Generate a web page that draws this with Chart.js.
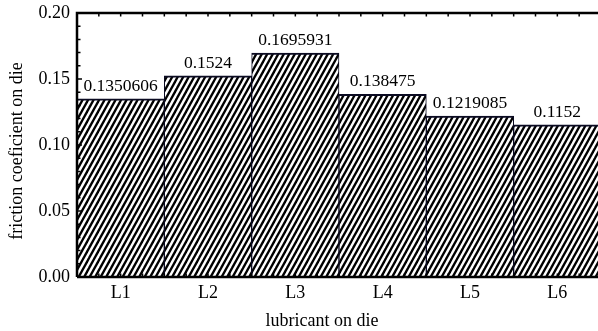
<!DOCTYPE html>
<html>
<head>
<meta charset="utf-8">
<script src="https://cdn.jsdelivr.net/npm/chart.js@4.4.0/dist/chart.umd.min.js"></script>
<style>
  html, body { margin: 0; padding: 0; background: #fff; overflow: hidden; }
  canvas { display: block; }
</style>
</head>
<body>
<canvas id="canvas" width="604" height="331"></canvas>
<script>
const lubricants = ['L1', 'L2', 'L3', 'L4', 'L5', 'L6'];
const friction = [0.1350606, 0.1524, 0.1695931, 0.138475, 0.1219085, 0.1152];
const yTicks = [0, 0.05, 0.10, 0.15, 0.20];
const xTitle = 'lubricant on die';
const yTitle = 'friction coeficient on die';

const serif = 'Liberation Serif';

// diagonal hatch "///"
function makeHatch() {
    const tile = document.createElement('canvas');
    tile.width = 11;
    tile.height = 20;
    const t = tile.getContext('2d');
    t.fillStyle = '#fff';
    t.fillRect(0, 0, 11, 20);
    t.strokeStyle = '#000';
    t.lineWidth = 2.3;
    for (let k = -3; k <= 3; k++) {
        t.beginPath();
        t.moveTo(11 + k * 5.5 + 11, -20);
        t.lineTo(k * 5.5 - 11, 40);
        t.stroke();
    }
    return t.createPattern(tile, 'repeat');
}

const valueLabels = {
    id: 'valueLabels',
    afterDatasetsDraw(chart) {
        const ctx = chart.ctx;
        const meta = chart.getDatasetMeta(0);
        ctx.save();
        ctx.font = '17.5px "' + serif + '"';
        ctx.fillStyle = '#000';
        ctx.textAlign = 'center';
        ctx.textBaseline = 'bottom';
        meta.data.forEach(function(bar, i) {
            ctx.fillText(String(friction[i]), bar.x, bar.y - 4);
        });
        ctx.restore();
    }
};

const frame = {
    id: 'frame',
    afterDraw(chart) {
        const ctx = chart.ctx;
        const a = chart.chartArea;
        const xs = chart.scales.x;
        const ys = chart.scales.y;
        ctx.save();
        ctx.strokeStyle = '#000';
        ctx.lineWidth = 2.5;
        ctx.beginPath();
        ctx.moveTo(a.left, a.bottom);
        ctx.lineTo(a.left, a.top);
        ctx.lineTo(a.right + 5, a.top);
        ctx.moveTo(a.left, a.bottom);
        ctx.lineTo(a.right + 5, a.bottom);
        ctx.stroke();

        ctx.lineWidth = 1.5;
        ctx.beginPath();
        // x ticks every quarter category, top and bottom, pointing inwards
        for (let v = -0.5; v <= lubricants.length - 0.5 + 1e-9; v += 0.25) {
            const px = xs.getPixelForValue(v);
            ctx.moveTo(px, a.top);
            ctx.lineTo(px, a.top + 3.5);
            ctx.moveTo(px, a.bottom);
            ctx.lineTo(px, a.bottom - 3.5);
        }
        // y ticks every 0.01, pointing right
        for (let j = 0; j <= 20; j++) {
            const py = ys.getPixelForValue(j * 0.01);
            const len = (j % 5 === 0) ? 5 : 3.5;
            ctx.moveTo(a.left, py);
            ctx.lineTo(a.left + len, py);
        }
        ctx.stroke();

        // axis titles
        ctx.font = '18px "' + serif + '"';
        ctx.fillStyle = '#000';
        ctx.textAlign = 'center';
        ctx.textBaseline = 'middle';
        ctx.fillText(xTitle, (a.left + a.right) / 2 - 17, xs.bottom - 10);
        ctx.translate(ys.left + 17, (a.top + a.bottom) / 2 + 6);
        ctx.rotate(-Math.PI / 2);
        ctx.fillText(yTitle, 0, 0);
        ctx.restore();
    }
};

const ctx = document.getElementById('canvas').getContext('2d');
const myChart = new Chart(ctx, {
    type: 'bar',
    data: {
        labels: lubricants,
        datasets: [{
            data: friction,
            backgroundColor: makeHatch(),
            borderColor: '#0b0b22',
            borderWidth: { top: 2, left: 1, right: 1, bottom: 0 },
            borderSkipped: false,
            categoryPercentage: 1.0,
            barPercentage: 1.0
        }]
    },
    options: {
        responsive: false,
        animation: false,
        devicePixelRatio: 1,
        layout: {
            padding: { left: 0, top: 13, right: 3, bottom: 0 }
        },
        scales: {
            x: {
                grid: { display: false, drawTicks: false },
                border: { display: false },
                ticks: {
                    color: '#000',
                    font: { family: serif, size: 18 },
                    padding: 5,
                    maxRotation: 0
                },
                afterFit: function(scale) { scale.height = 54; }
            },
            y: {
                min: 0,
                max: 0.2,
                afterBuildTicks: function(scale) {
                    scale.ticks = yTicks.map(function(v) { return { value: v }; });
                },
                grid: { display: false, drawTicks: false },
                border: { display: false },
                ticks: {
                    color: '#000',
                    font: { family: serif, size: 18 },
                    padding: 7,
                    callback: function(v) { return v.toFixed(2); }
                },
                afterFit: function(scale) {
                    scale.width = 77;
                    scale.paddingTop = 0;
                    scale.paddingBottom = 0;
                }
            }
        },
        plugins: {
            legend: { display: false },
            tooltip: { enabled: false }
        }
    },
    plugins: [valueLabels, frame]
});
</script>
</body>
</html>
